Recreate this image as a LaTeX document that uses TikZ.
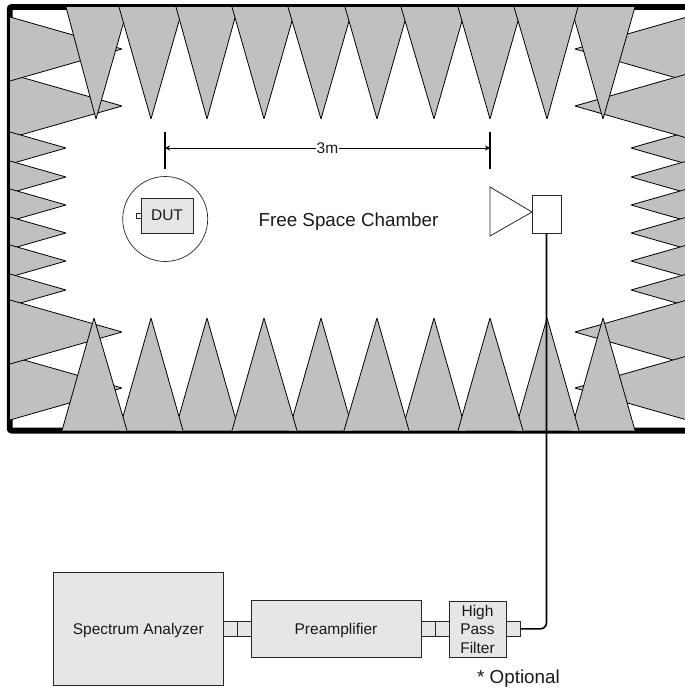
\documentclass[tikz,border=0pt]{standalone}
\usepackage{fontspec}
\setmainfont{Liberation Sans}
\usepackage{xcolor}
\definecolor{absorbergray}{HTML}{C0C0C0}
\definecolor{devicegray}{HTML}{E6E6E6}
\usetikzlibrary{positioning, arrows.meta}

\begin{document}
\begin{tikzpicture}[
  x=1pt, y=-1pt,
  font=\fontsize{15.5pt}{18.8pt}\selectfont,
  wedge/.style={draw=black, fill=absorbergray, line width=0.8pt, line join=bevel},
  devbox/.style={draw=black!85, fill=devicegray, line width=0.8pt, align=center, text=black!90,
                 inner sep=0pt, outer sep=0pt},
  port/.style={devbox, minimum width=14pt, minimum height=14.5pt},
  plainbox/.style={draw=black!85, fill=white, line width=0.8pt, inner sep=0pt, outer sep=0pt},
  wall/.style={line width=5.8pt, draw=black, rounded corners=2pt},
  tick/.style={line width=1.4pt, draw=black},
  dimarr/.style={-{Stealth[length=5pt, width=5pt]}, line width=0.7pt, draw=black},
  cable/.style={line width=1.6pt, draw=black, rounded corners=6pt},
  bigtext/.style={font=\fontsize{18.8pt}{22pt}\selectfont, text=black!90, inner sep=0pt, text depth=0pt}
]
\useasboundingbox (0,0) rectangle (685,691);

% chamber wall
\draw[wall] (685,7) -- (9.7,7) -- (9.7,430.6) -- (685,430.6);

% left absorbers
\foreach \tipy/\halfh in {106/32, 49/32, 148/16, 177/16, 205/16, 233/16, 261/16, 290/16, 388/32, 332/32}
  \draw[wedge] (10,\tipy-\halfh) -- ({10+56*\halfh/16},\tipy) -- (10,\tipy+\halfh);

% right absorbers
\foreach \tipy/\halfh in {148/15.4, 177/15.4, 205/15.4, 233/15.4, 261/15.4, 290/15.4, 49/31.4, 106/31.4, 332/31.4, 388/31.4}
  \draw[wedge] (685,\tipy-\halfh) -- ({685-54*\halfh/15.4},\tipy) -- (685,\tipy+\halfh);

% top absorbers
\foreach \tipx/\lft/\rgt in {603/571/635, 96/66/128, 151/119/183, 207/176/238, 264/232/296, 321/288/353,
                             377/345/409, 434/401/466, 490/458/522, 547/514/578}
  \draw[wedge] (\lft,7) -- (\tipx,119) -- (\rgt,7);

% bottom absorbers
\foreach \tipx/\lft/\rgt in {603/571/635, 547/515/579, 434/402/466, 321/289/353, 207/175/239, 151/119/183,
                             94/62/127, 264/232/297, 377/344/409, 490/458/523}
  \draw[wedge] (\lft,430.6) -- (\tipx,318) -- (\rgt,430.6);

% distance marker
\coordinate (dutmarka) at (165,132);
\coordinate (dutmarkb) at (165,169);
\coordinate (hornmarka) at (490,132);
\coordinate (hornmarkb) at (490,169);
\coordinate (dutmark) at (165,148);
\coordinate (hornmark) at (490,148);
\draw[tick] (dutmarka) -- (dutmarkb);
\draw[tick] (hornmarka) -- (hornmarkb);
\node[inner sep=1pt, text=black!90] (dist) at (327.5,148) {3m};
\draw[dimarr] (dist) -- (dutmark);
\draw[dimarr] (dist) -- (hornmark);

% device under test
\node[circle, draw=black!85, line width=0.7pt, minimum size=85pt, inner sep=0pt] (turntable) at (165.2,219) {};
\node[devbox, minimum width=52pt, minimum height=35pt] (dut) at (167,215.5) {DUT};
\node[plainbox, minimum width=5pt, minimum height=5pt, anchor=east] (dutport) at (dut.west) {};

\node[bigtext] (chamber) at (348.5,220) {Free Space Chamber};

% antenna
\node[plainbox, minimum width=29pt, minimum height=38pt] (hornbox) at (546.5,214) {};
\coordinate (horntip) at (532,212);
\draw[draw=black!85, line width=0.8pt, fill=white] (490,187) -- (horntip) -- (490,236) -- cycle;

% instruments
\node[devbox, text depth=0pt, minimum width=169.5pt, minimum height=112.5pt] (analyzer) at (138.3,628.8) {Spectrum Analyzer};
\node[port] (saout) at (230,628.8) {};
\node[port] (ampin) at (244,628.8) {};
\node[devbox, text depth=0pt, minimum width=170pt, minimum height=56.5pt] (amp) at (336,628.8) {Preamplifier};
\node[port] (ampout) at (428,628.8) {};
\node[port] (filtin) at (442,628.8) {};
\node[devbox, minimum width=57pt, minimum height=56.5pt] (filter) at (477.5,629.3) {High\\Pass\\Filter};
\node[port] (filtout) at (513,628.8) {};
\node[bigtext, anchor=west] (optional) at (477,677) {* Optional};

\draw[cable] (filtout.east) -| (hornbox.south);
\end{tikzpicture}
\end{document}
